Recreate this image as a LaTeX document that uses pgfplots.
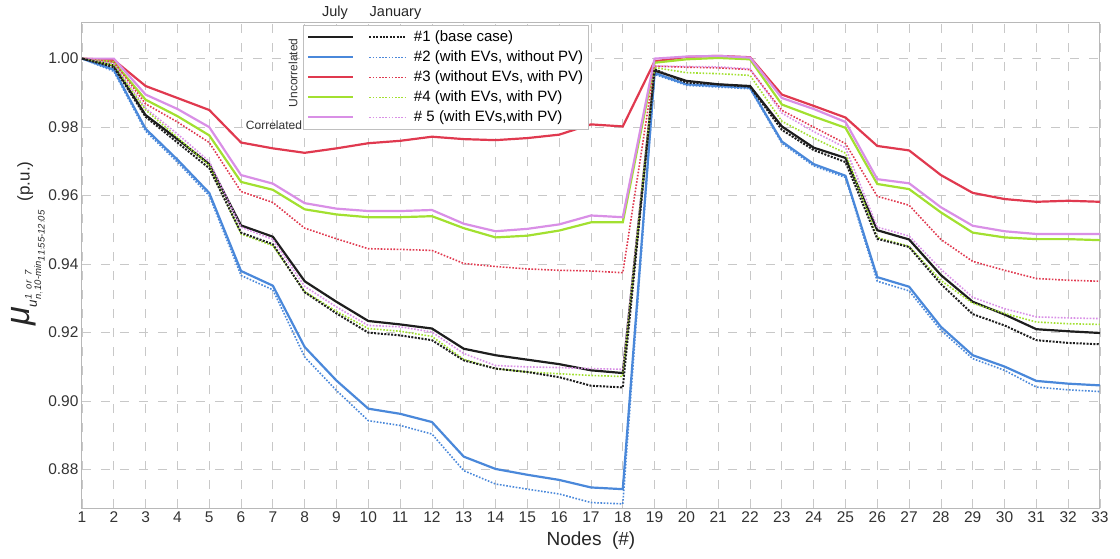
\documentclass[border=0pt]{standalone}
\usepackage{pgfplots}
\pgfplotsset{compat=1.18}
\usepackage{amsmath}
\usepackage{graphicx}
\usepackage{fontspec}
\setmainfont{Liberation Sans}
\definecolor{cblack}{HTML}{1E1E1E}
\definecolor{cblue}{HTML}{4A88DA}
\definecolor{cred}{HTML}{E0394F}
\definecolor{cgreen}{HTML}{A2E030}
\definecolor{cviolet}{HTML}{D98FE6}
\definecolor{gridc}{HTML}{C8C8C8}
\pgfplotsset{
  janline/.style={line width=1.6pt, dash pattern=on 1.6pt off 1.6pt},
  legsol/.style={legend image code/.code={\draw[#1, line width=2.2pt] (0pt,0pt) -- (45pt,0pt);}},
  legdot/.style={legend image code/.code={\draw[#1, line width=1.6pt, dash pattern=on 1.6pt off 1.6pt] (0pt,0pt) -- (37pt,0pt);}},
}
\begin{document}
\begin{tikzpicture}
\begin{axis}[
  at={(0,0)}, anchor=south west,
  scale only axis, width=1018pt, height=485pt,
  xmin=1, xmax=33, ymin=0.8688, ymax=1.0104,
  xtick={1,...,33},
  ytick={0.88,0.90,0.92,0.94,0.96,0.98,1.00},
  /pgf/number format/assume math mode=true,
  y tick label style={/pgf/number format/fixed, /pgf/number format/fixed zerofill, /pgf/number format/precision=2},
  tick label style={font=\fontsize{15.5}{17}\selectfont, color=black!80},
  major tick length=0pt,
  grid=major,
  major grid style={gridc, line width=0.8pt, dash pattern=on 9pt off 10pt},
  axis line style={black!28, line width=1pt},
  clip=false,
  xlabel={Nodes\ \ (\#)},
  xlabel style={font=\fontsize{19}{21}\selectfont, color=black!85, yshift=-2pt},
  every axis y label/.style={at={(axis description cs:-0.053,0.545)}, rotate=90, anchor=center},
  ylabel={\color{black!85}{\fontsize{19}{22}\selectfont$\text{\scalebox{1.8}{\itshape μ}}_{\mathit{u}^{\mathit{1\ or\ 7}}_{\mathit{n,\,10\text{-}min}_{\mathit{11:55\text{-}12:05}}}}$}\hspace{8pt}{\fontsize{17}{20}\selectfont(p.u.)}},
  legend columns=2,
  legend style={at={(0.217,0.996)}, anchor=north west, draw=black!25, line width=0.8pt, fill=white,
    font=\fontsize{15}{17}\selectfont, inner xsep=4pt, inner ysep=2pt,
    cells={anchor=west},
    nodes={inner sep=1.5pt, text height=12.5pt, text depth=4.5pt},
    /tikz/every odd column/.append style={column sep=5pt},
    /tikz/every even column/.append style={column sep=6pt}},
]
% legend images
\addlegendimage{legsol=cblack}\addlegendentry{}
\addlegendimage{legend image code/.code={\draw[cblack, line width=2pt, dash pattern=on 2pt off 1.4pt] (0pt,0pt) -- (37pt,0pt);}}\addlegendentry{\#1 (base case)}
\addlegendimage{legsol=cblue}\addlegendentry{}
\addlegendimage{legdot=cblue}\addlegendentry{\#2 (with EVs, without PV)}
\addlegendimage{legsol=cred}\addlegendentry{}
\addlegendimage{legdot=cred}\addlegendentry{\#3 (without EVs, with PV)}
\addlegendimage{legsol=cgreen}\addlegendentry{}
\addlegendimage{legdot=cgreen}\addlegendentry{\#4 (with EVs, with PV)}
\addlegendimage{legsol=cviolet}\addlegendentry{}
\addlegendimage{legdot=cviolet}\addlegendentry{\# 5 (with EVs,with PV)}

% ---------- July (solid) ----------
\addplot[forget plot, cred, line width=2.2pt] coordinates {
(1,1.000)(2,0.9996)(3,0.9920)(4,0.9885)(5,0.9850)(6,0.9755)(7,0.9738)(8,0.9725)(9,0.9738)(10,0.9753)
(11,0.9760)(12,0.9772)(13,0.9765)(14,0.9762)(15,0.9768)(16,0.9778)(17,0.9808)(18,0.9802)(19,0.9992)(20,1.0005)
(21,1.0008)(22,1.0004)(23,0.9895)(24,0.9862)(25,0.9828)(26,0.9745)(27,0.9732)(28,0.9660)(29,0.9608)(30,0.9590)
(31,0.9582)(32,0.9585)(33,0.9582)};
\addplot[forget plot, cgreen, line width=2.2pt] coordinates {
(1,1.000)(2,0.9990)(3,0.9880)(4,0.9832)(5,0.9776)(6,0.9640)(7,0.9617)(8,0.9560)(9,0.9545)(10,0.9537)
(11,0.9537)(12,0.9540)(13,0.9505)(14,0.9478)(15,0.9483)(16,0.9498)(17,0.9522)(18,0.9522)(19,0.9988)(20,0.9998)
(21,1.0002)(22,0.9998)(23,0.9866)(24,0.9831)(25,0.9798)(26,0.9634)(27,0.9619)(28,0.9551)(29,0.9492)(30,0.9478)
(31,0.9473)(32,0.9473)(33,0.9470)};
\addplot[forget plot, cviolet, line width=2.2pt] coordinates {
(1,1.000)(2,1.000)(3,0.9895)(4,0.9853)(5,0.9800)(6,0.9660)(7,0.9635)(8,0.9578)(9,0.9562)(10,0.9555)
(11,0.9555)(12,0.9558)(13,0.9518)(14,0.9496)(15,0.9503)(16,0.9516)(17,0.9542)(18,0.9537)(19,1.0000)(20,1.0006)
(21,1.0008)(22,1.0003)(23,0.9885)(24,0.9853)(25,0.9815)(26,0.9648)(27,0.9636)(28,0.9566)(29,0.9512)(30,0.9496)
(31,0.9488)(32,0.9488)(33,0.9488)};
\addplot[forget plot, cblue, line width=2.2pt] coordinates {
(1,1.000)(2,0.9968)(3,0.9795)(4,0.9705)(5,0.9608)(6,0.9380)(7,0.9337)(8,0.9158)(9,0.9060)(10,0.8978)
(11,0.8963)(12,0.8939)(13,0.8838)(14,0.8802)(15,0.8785)(16,0.8770)(17,0.8748)(18,0.8743)(19,0.9958)(20,0.9925)
(21,0.9920)(22,0.9915)(23,0.9758)(24,0.9692)(25,0.9658)(26,0.9362)(27,0.9334)(28,0.9217)(29,0.9134)(30,0.9101)
(31,0.9059)(32,0.9051)(33,0.9046)};
\addplot[forget plot, cblack, line width=2.2pt] coordinates {
(1,1.000)(2,0.9980)(3,0.9835)(4,0.9765)(5,0.9692)(6,0.9513)(7,0.9480)(8,0.9350)(9,0.9290)(10,0.9234)
(11,0.9224)(12,0.9212)(13,0.9153)(14,0.9134)(15,0.9121)(16,0.9108)(17,0.9090)(18,0.9082)(19,0.9965)(20,0.9935)
(21,0.9925)(22,0.9920)(23,0.9802)(24,0.9740)(25,0.9710)(26,0.9499)(27,0.9472)(28,0.9368)(29,0.9290)(30,0.9253)
(31,0.9210)(32,0.9204)(33,0.9199)};

% ---------- January (dotted) ----------
\addplot[forget plot, cred, janline] coordinates {
(1,1.000)(2,0.9990)(3,0.9868)(4,0.9815)(5,0.9755)(6,0.9612)(7,0.9580)(8,0.9505)(9,0.9474)(10,0.9445)
(11,0.9443)(12,0.9440)(13,0.9402)(14,0.9393)(15,0.9386)(16,0.9382)(17,0.9380)(18,0.9375)(19,0.9978)(20,0.9975)
(21,0.9973)(22,0.9968)(23,0.9849)(24,0.9800)(25,0.9752)(26,0.9598)(27,0.9572)(28,0.9472)(29,0.9408)(30,0.9382)
(31,0.9358)(32,0.9353)(33,0.9350)};
\addplot[forget plot, cviolet, janline] coordinates {
(1,1.000)(2,0.9985)(3,0.9855)(4,0.9780)(5,0.9700)(6,0.9508)(7,0.9472)(8,0.9335)(9,0.9275)(10,0.9221)
(11,0.9217)(12,0.9202)(13,0.9139)(14,0.9104)(15,0.9100)(16,0.9098)(17,0.9095)(18,0.9093)(19,0.9978)(20,0.9977)
(21,0.9976)(22,0.9970)(23,0.9841)(24,0.9787)(25,0.9740)(26,0.9508)(27,0.9482)(28,0.9385)(29,0.9303)(30,0.9270)
(31,0.9246)(32,0.9243)(33,0.9241)};
\addplot[forget plot, cgreen, janline] coordinates {
(1,1.000)(2,0.9980)(3,0.9850)(4,0.9770)(5,0.9688)(6,0.9488)(7,0.9454)(8,0.9320)(9,0.9262)(10,0.9212)
(11,0.9204)(12,0.9189)(13,0.9122)(14,0.9095)(15,0.9085)(16,0.9080)(17,0.9075)(18,0.9072)(19,0.9974)(20,0.9959)
(21,0.9956)(22,0.9951)(23,0.9817)(24,0.9768)(25,0.9724)(26,0.9478)(27,0.9452)(28,0.9352)(29,0.9286)(30,0.9256)
(31,0.9231)(32,0.9226)(33,0.9224)};
\addplot[forget plot, cblue, janline] coordinates {
(1,1.000)(2,0.9963)(3,0.9788)(4,0.9698)(5,0.9600)(6,0.9367)(7,0.9325)(8,0.9129)(9,0.9031)(10,0.8943)
(11,0.8929)(12,0.8904)(13,0.8797)(14,0.8758)(15,0.8743)(16,0.8729)(17,0.8704)(18,0.8700)(19,0.9954)(20,0.9922)
(21,0.9917)(22,0.9912)(23,0.9753)(24,0.9687)(25,0.9653)(26,0.9350)(27,0.9322)(28,0.9207)(29,0.9124)(30,0.9090)
(31,0.9041)(32,0.9033)(33,0.9028)};
\addplot[forget plot, cblack, janline, line width=2pt, dash pattern=on 2pt off 1.4pt] coordinates {
(1,1.000)(2,0.9975)(3,0.9830)(4,0.9755)(5,0.9680)(6,0.9492)(7,0.9458)(8,0.9318)(9,0.9256)(10,0.9200)
(11,0.9192)(12,0.9178)(13,0.9119)(14,0.9095)(15,0.9085)(16,0.9070)(17,0.9045)(18,0.9040)(19,0.9969)(20,0.9930)
(21,0.9925)(22,0.9918)(23,0.9792)(24,0.9733)(25,0.9698)(26,0.9474)(27,0.9450)(28,0.9342)(29,0.9254)(30,0.9221)
(31,0.9178)(32,0.9170)(33,0.9166)};

% header and side labels of the legend
\node[font=\fontsize{14.5}{16}\selectfont, color=black!85] at (rel axis cs:0.2485,1.0206) {July};
\node[font=\fontsize{14.5}{16}\selectfont, color=black!85] at (rel axis cs:0.3080,1.0206) {January};
\node[font=\fontsize{12}{14}\selectfont, color=black!80, rotate=90] at (rel axis cs:0.2073,0.897) {Uncorrelated};
\node[font=\fontsize{12}{14}\selectfont, color=black!80] at (rel axis cs:0.1886,0.790) {Correlated};
\end{axis}
\pgfresetboundingbox
\useasboundingbox (-82pt,-50pt) rectangle (1038pt,508pt);
\end{tikzpicture}
\end{document}
